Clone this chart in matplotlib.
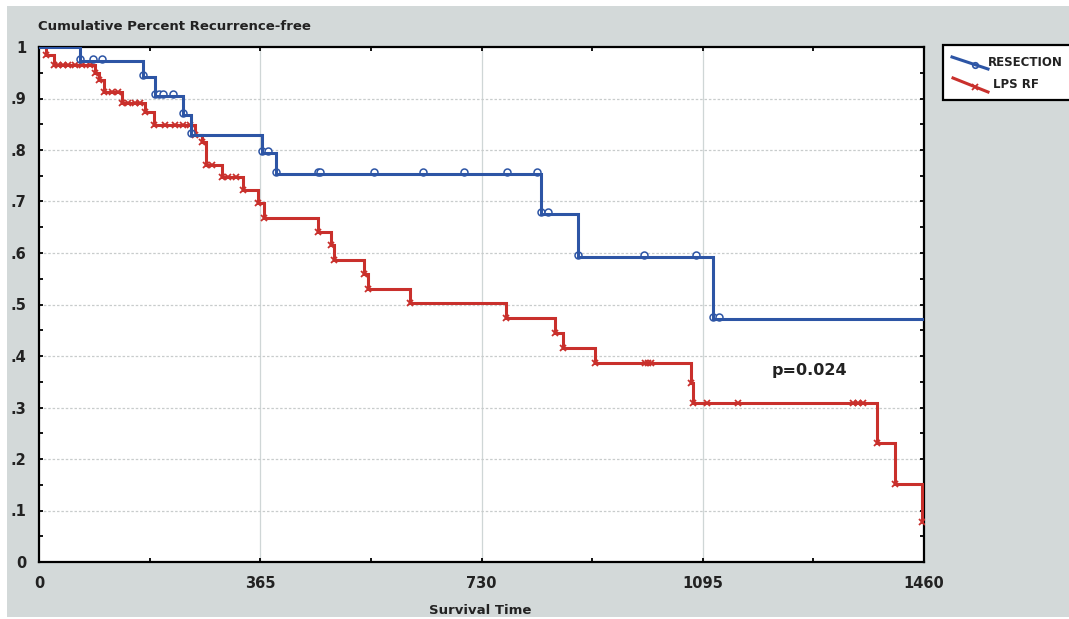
import numpy as np
import matplotlib
matplotlib.use("Agg")
import matplotlib.pyplot as plt
from matplotlib.patches import Rectangle
from matplotlib.lines import Line2D

# Kaplan-Meier estimates (days, survival fraction)
resection_times = [0, 68, 172, 191, 238, 251, 368, 391, 828, 889, 1112]
resection_surv = [1.0, 0.973, 0.942, 0.905, 0.868, 0.829, 0.795, 0.753, 0.676, 0.592, 0.472]
resection_censor = [89, 104, 198, 205, 221, 378, 460, 464, 553, 633, 701, 772,
                    822, 840, 998, 1084, 1122]

lps_times = [0, 11, 25, 92, 99, 107, 137, 175, 190, 257, 269, 276, 302, 337, 361,
             371, 460, 482, 487, 536, 543, 612, 770, 851, 864, 917, 1075, 1079,
             1382, 1412, 1457]
lps_surv = [1.0, 0.985, 0.965, 0.95, 0.935, 0.913, 0.891, 0.874, 0.849, 0.83, 0.815,
            0.771, 0.748, 0.722, 0.697, 0.668, 0.641, 0.615, 0.586, 0.56, 0.53,
            0.503, 0.474, 0.445, 0.416, 0.386, 0.348, 0.309, 0.231, 0.151, 0.078]
lps_censor = [31, 40, 48, 60, 71, 84, 120, 130, 147, 158, 167, 208, 224, 238, 249,
              285, 312, 325, 1000, 1005, 1010, 1102, 1153, 1343, 1351, 1359]

x_labels = [0, 365, 730, 1095, 1460]
y_labels = ["0", ".1", ".2", ".3", ".4", ".5", ".6", ".7", ".8", ".9", "1"]
p_text = "p=0.024"
T_MAX = 1460

BLUE = "#2d55a5"
RED = "#c9302c"
BG = "#d3d9d9"


def surv_at(times, surv, t):
    idx = np.searchsorted(times, t, side="right") - 1
    return np.asarray(surv)[idx]


def draw_curve(ax, times, surv, censor, color, marker, z):
    t = list(times) + [T_MAX]
    s = list(surv) + [surv[-1]]
    ax.step(t, s, where="post", color=color, lw=2.2, zorder=z, solid_joinstyle="miter")
    marks = np.array(sorted(list(times[1:]) + list(censor)))
    ys = surv_at(times, surv, marks)
    if marker == "o":
        ax.plot(marks, ys + 0.004, "o", ms=5, mfc="white", mec=color, mew=1.1,
                zorder=z - 0.1)
    else:
        ax.plot(marks, ys, "x", ms=5, color=color, mew=1.3, zorder=z + 0.1)


fig = plt.figure(figsize=(10.69, 6.19), dpi=100)
fig.patch.set_facecolor("white")
fig.patches.append(Rectangle((7 / 1069, 2 / 619), 1 - 7 / 1069, 611 / 619,
                             transform=fig.transFigure, facecolor=BG,
                             edgecolor="none", zorder=-10))

ax = fig.add_axes([39 / 1069, 57 / 619, 885 / 1069, 515 / 619])
ax.set_zorder(1)
ax.set_facecolor("white")

draw_curve(ax, lps_times, lps_surv, lps_censor, RED, "x", 3)
draw_curve(ax, resection_times, resection_surv, resection_censor, BLUE, "o", 4)

ax.set_xlim(0, T_MAX)
ax.set_ylim(0, 1)

ax.set_xticks(x_labels)
ax.set_xticklabels([str(v) for v in x_labels])
ax.set_xticks(np.arange(0, T_MAX + 1, 182.5), minor=True)
ax.set_yticks(np.linspace(0, 1, 11))
ax.set_yticklabels(y_labels)
ax.set_yticks(np.linspace(0, 1, 21), minor=True)

ax.tick_params(which="both", direction="in", top=True, right=True, length=3,
               width=1.3, color="black")
ax.tick_params(axis="x", which="major", pad=10, labelsize=10.5)
ax.tick_params(axis="y", which="major", pad=9, labelsize=10.5)
for lab in ax.get_xticklabels() + ax.get_yticklabels():
    lab.set_fontweight("bold")
    lab.set_color("#222222")

for v in x_labels[1:-1]:
    ax.axvline(v, color="#cfd6d6", lw=0.9, zorder=1)
for v in np.linspace(0.1, 0.9, 9):
    ax.axhline(v, color="#c8cccc", lw=0.9, ls=(0, (2, 1.5)), zorder=1)

for sp in ax.spines.values():
    sp.set_linewidth(1.6)
    sp.set_color("black")

ax.text(1209, 0.371, p_text, fontsize=11.5, fontweight="bold", color="#222222",
        ha="left", va="center")

fig.text(38 / 1069, 1 - 27 / 619, "Cumulative Percent Recurrence-free",
         fontsize=9.5, fontweight="bold", color="#222222", ha="left", va="center")
fig.text(480 / 1069, 1 - 611 / 619, "Survival Time", fontsize=9.5,
         fontweight="bold", color="#222222", ha="center", va="center")

# legend box outside the plot on the right
fig.patches.append(Rectangle((943 / 1069, 1 - 100 / 619), 140 / 1069, 55 / 619,
                             transform=fig.transFigure, facecolor="white",
                             edgecolor="black", lw=1.6, zorder=2))
fig.lines.append(Line2D([952 / 1069, 988 / 1069], [1 - 57 / 619, 1 - 69 / 619],
                        transform=fig.transFigure, color=BLUE, lw=2.2, zorder=3))
fig.lines.append(Line2D([975 / 1069], [1 - 65 / 619], transform=fig.transFigure,
                        marker="o", ms=4, mfc="none", mec=BLUE, mew=1.2, zorder=3))
fig.lines.append(Line2D([953 / 1069, 988 / 1069], [1 - 78 / 619, 1 - 92 / 619],
                        transform=fig.transFigure, color=RED, lw=2.2, zorder=3))
fig.lines.append(Line2D([975 / 1069], [1 - 87 / 619], transform=fig.transFigure,
                        marker="x", ms=5, color=RED, mew=1.3, zorder=3))
fig.text(988 / 1069, 1 - 62 / 619, "RESECTION", fontsize=8.5, fontweight="bold",
         color="#222222", ha="left", va="center", zorder=4)
fig.text(993 / 1069, 1 - 85 / 619, "LPS RF", fontsize=8.5, fontweight="bold",
         color="#222222", ha="left", va="center", zorder=4)

fig.savefig("out.png", dpi=100, facecolor=fig.get_facecolor())
